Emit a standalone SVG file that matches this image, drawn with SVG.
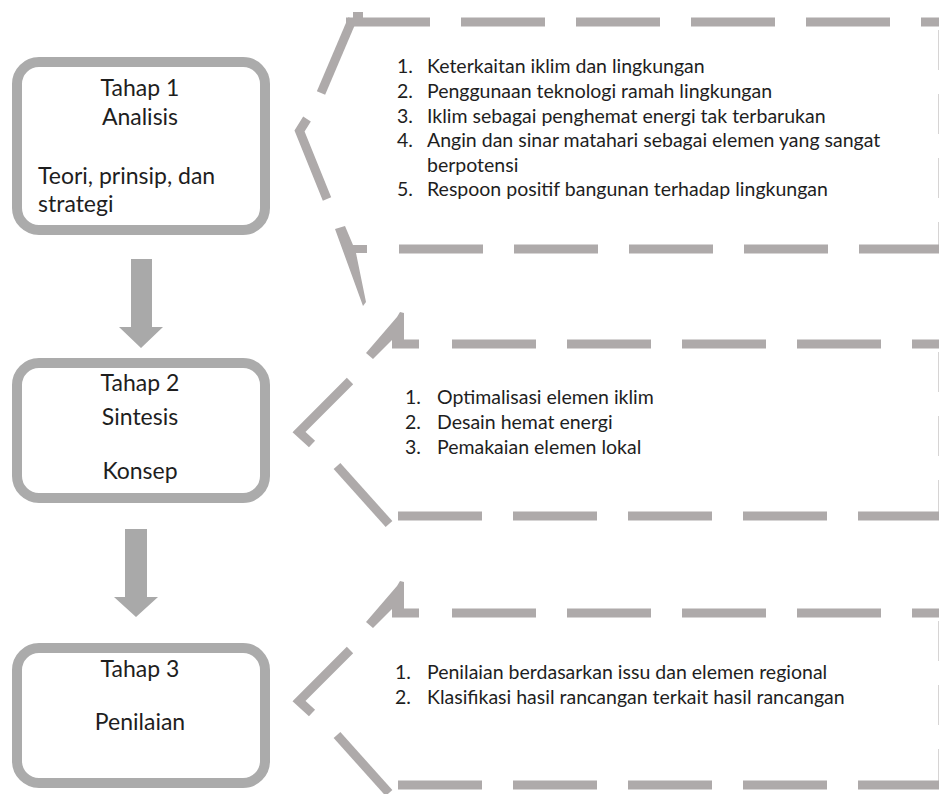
<svg xmlns="http://www.w3.org/2000/svg" width="939" height="794" viewBox="0 0 939 794">
<style>
.box{fill:#ffffff;stroke:#ababab;stroke-width:10}
.arr{fill:#a9a9a9}
.dl{fill:none;stroke:#aeaaaa;stroke-width:9;stroke-linecap:butt;stroke-linejoin:miter}
.dh{fill:none;stroke:#aeaaaa;stroke-width:9;stroke-dasharray:84 31}
.dv{fill:none;stroke:#aeaaaa;stroke-width:9;stroke-dasharray:40 24}
.df{fill:#aeaaaa}
.t{font-family:Lato,"Liberation Sans",sans-serif;fill:#1e1e1e}
.bt{font-size:23px}
.lt{font-size:19.5px}
</style>
<rect width="939" height="794" fill="#ffffff"/>
<g id="connectors">
<polygon class="arr" points="131,259 152,259 152,327 163,327 141,348 119,327 131,327"/>
<polygon class="arr" points="125,529 147,529 147,597 158,597 136,617 114,597 125,597"/>
</g>
<g id="tahap1">
<rect class="box" x="17" y="62" width="248" height="168" rx="22"/>
<text class="t bt" x="140" y="96" text-anchor="middle">Tahap 1</text>
<text class="t bt" x="140" y="125" text-anchor="middle">Analisis</text>
<text class="t bt" x="38" y="184">Teori, prinsip, dan</text>
<text class="t bt" x="38" y="212">strategi</text>
</g>
<g id="tahap2">
<rect class="box" x="17" y="363" width="248" height="135" rx="22"/>
<text class="t bt" x="140" y="391" text-anchor="middle">Tahap 2</text>
<text class="t bt" x="140" y="425" text-anchor="middle">Sintesis</text>
<text class="t bt" x="140" y="479" text-anchor="middle">Konsep</text>
</g>
<g id="tahap3">
<rect class="box" x="17" y="648" width="248" height="135" rx="22"/>
<text class="t bt" x="140" y="677" text-anchor="middle">Tahap 3</text>
<text class="t bt" x="140" y="730" text-anchor="middle">Penilaian</text>
</g>
<g id="callout1">
<path class="dh" d="M346,22 H945"/>
<path class="dh" d="M399,249 H945"/>
<path class="dv" d="M943,30 V249"/>
<line class="dl" x1="352.5" y1="19" x2="321" y2="93"/>
<rect class="df" x="353" y="12" width="10" height="10"/>
<polyline class="dl" points="307,119 299.5,131 327,199"/>
<polygon class="df" points="335,229 345,226 353,245 367,245 367,253 356,253 366,302 363,306"/>
<text class="t lt" y="73"><tspan x="397">1.</tspan><tspan x="427">Keterkaitan iklim dan lingkungan</tspan></text>
<text class="t lt" y="98"><tspan x="397">2.</tspan><tspan x="427">Penggunaan teknologi ramah lingkungan</tspan></text>
<text class="t lt" y="122.5"><tspan x="397">3.</tspan><tspan x="427">Iklim sebagai penghemat energi tak terbarukan</tspan></text>
<text class="t lt" y="147"><tspan x="397">4.</tspan><tspan x="427">Angin dan sinar matahari sebagai elemen yang sangat</tspan></text>
<text class="t lt" x="427" y="171.5">berpotensi</text>
<text class="t lt" y="196"><tspan x="397">5.</tspan><tspan x="427">Respoon positif bangunan terhadap lingkungan</tspan></text>
</g>
<g id="callout2">
<path class="dh" d="M452,344 H945"/>
<rect class="df" x="392" y="339.5" width="27" height="9"/>
<path class="dh" d="M398,516 H945"/>
<path class="dv" d="M943,352 V516"/>
<polygon class="df" points="400,312 404,313 404,340 392,340 373,359 366,353 397,317"/>
<polyline class="dl" points="350,381 299,432 312,444"/>
<line class="dl" x1="337" y1="466" x2="389" y2="524"/>
<text class="t lt" y="404"><tspan x="405">1.</tspan><tspan x="437">Optimalisasi elemen iklim</tspan></text>
<text class="t lt" y="429"><tspan x="405">2.</tspan><tspan x="437">Desain hemat energi</tspan></text>
<text class="t lt" y="454"><tspan x="405">3.</tspan><tspan x="437">Pemakaian elemen lokal</tspan></text>
</g>
<g id="callout3">
<path class="dh" d="M452,613 H945"/>
<rect class="df" x="392" y="608.5" width="27" height="9"/>
<path class="dh" d="M398,785 H945"/>
<path class="dv" d="M943,621 V785"/>
<polygon class="df" points="400,581 404,582 404,609 392,609 373,628 366,622 397,586"/>
<polyline class="dl" points="350,650 299,701 312,713"/>
<line class="dl" x1="337" y1="735" x2="389" y2="793"/>
<text class="t lt" y="679"><tspan x="395">1.</tspan><tspan x="427">Penilaian berdasarkan issu dan elemen regional</tspan></text>
<text class="t lt" y="704"><tspan x="395">2.</tspan><tspan x="427">Klasifikasi hasil rancangan terkait hasil rancangan</tspan></text>
</g>
</svg>
